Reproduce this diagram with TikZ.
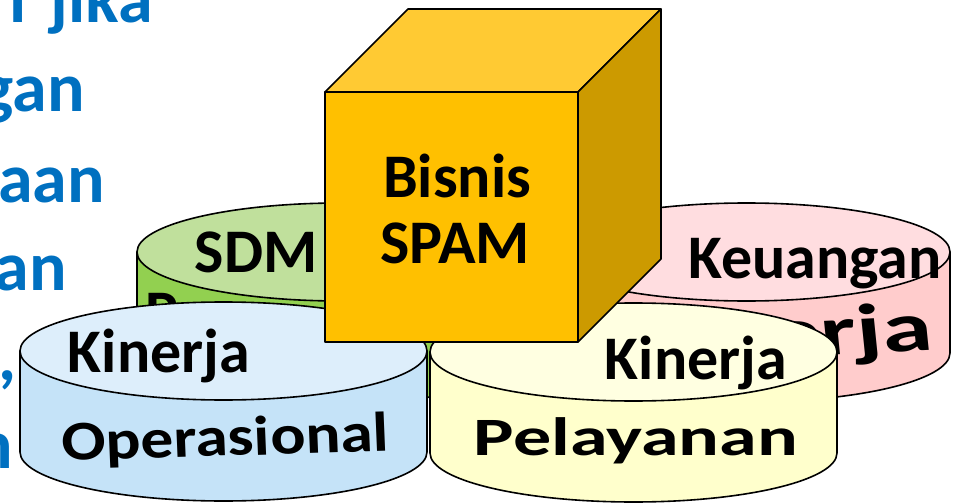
\documentclass[tikz,border=0pt]{standalone}
\usepackage{fontspec}
\setmainfont{Carlito}
\definecolor{introblue}{HTML}{0070C0}
\definecolor{opTop}{HTML}{DDEEFB}
\definecolor{opSide}{HTML}{C5E3F8}
\definecolor{plTop}{HTML}{FFFFE1}
\definecolor{plSide}{HTML}{FFFFCC}
\definecolor{sdmTop}{HTML}{C0E09C}
\definecolor{sdmSide}{HTML}{92D050}
\definecolor{kuTop}{HTML}{FFDDE0}
\definecolor{kuSide}{HTML}{FFCCCC}
\definecolor{cubeFront}{HTML}{FFC000}
\definecolor{cubeTop}{HTML}{FFCA33}
\definecolor{cubeRight}{HTML}{CC9A00}
% side wall of a drum: #1,#2 = centre of the top ellipse, #3 = fill colour
\newcommand\drumside[3]{%
  \draw[rim, fill=#3] (#1-203.5,#2) -- (#1-203.5,#2+101)
    arc[start angle=180, end angle=0, x radius=203.5, y radius=49]
    -- (#1+203.5,#2) -- cycle;}
% lid of a drum
\newcommand\drumtop[3]{%
  \draw[rim, fill=#3] (#1,#2) ellipse[x radius=203.5, y radius=49];}
\begin{document}
\begin{tikzpicture}[x=1pt, y=-1pt,
  rim/.style={draw=black, line width=1.6pt, line join=round},
  lbl/.style={font=\fontsize{62}{70}\selectfont\bfseries, inner sep=0pt, anchor=base},
  wall/.style={inner sep=0pt, anchor=base},
  intro/.style={font=\fontsize{70}{80}\selectfont\bfseries, text=introblue, inner sep=0pt, anchor=base east}]
\useasboundingbox (0,0) rectangle (954,503);

% running text at the left edge
\node[intro] (intro1) at (153,23) {i\hspace{8pt} jika};
\node[intro] (intro2) at (85,112) {gan};
\node[intro] (intro3) at (105,202) {aan};
\node[intro] (intro4) at (67,290) {an};
\node[intro] (intro5) at (17,380) {,};
\node[intro] (intro6) at (13,468) {n};

% back left drum
\drumside{340.5}{252}{sdmSide}
\node[lbl, anchor=base west] (sdmside) at (145,333) {P};
\drumtop{340.5}{252}{sdmTop}
\node[lbl] (sdm) at (256,272) {SDM};

% back right drum
\drumside{746.5}{252}{kuSide}
\node[wall, anchor=base east, font=\fontsize{70}{80}\selectfont\bfseries, xscale=1.45, rotate=4] (kuside) at (935,350) {Kinerja};
\drumtop{746.5}{252}{kuTop}
\node[lbl] (keu) at (815,278) {Keuangan};

% front left drum
\drumside{223.5}{351}{opSide}
\node[wall, font=\fontsize{56}{64}\selectfont\bfseries, xscale=1.17, rotate=2] (oper) at (226,456) {Operasional};
\drumtop{223.5}{351}{opTop}
\node[lbl] (kinop) at (159,372) {Kinerja};

% front right drum
\drumside{633.5}{352}{plSide}
\node[wall, font=\fontsize{54}{64}\selectfont\bfseries, xscale=1.41] (pelay) at (636,455) {Pelayanan};
\drumtop{633.5}{352}{plTop}
\node[lbl] (kinpl) at (696,379) {Kinerja};

% cube
\draw[rim, fill=cubeTop] (325,92) -- (408,9) -- (661,9) -- (578,92) -- cycle;
\draw[rim, fill=cubeRight] (578,92) -- (661,9) -- (661,259) -- (578,342) -- cycle;
\draw[rim, fill=cubeFront] (325,92) rectangle (578,342);
\node[lbl] (bisnis) at (457,197) {Bisnis};
\node[lbl] (spam) at (455,263) {SPAM};
\end{tikzpicture}
\end{document}
